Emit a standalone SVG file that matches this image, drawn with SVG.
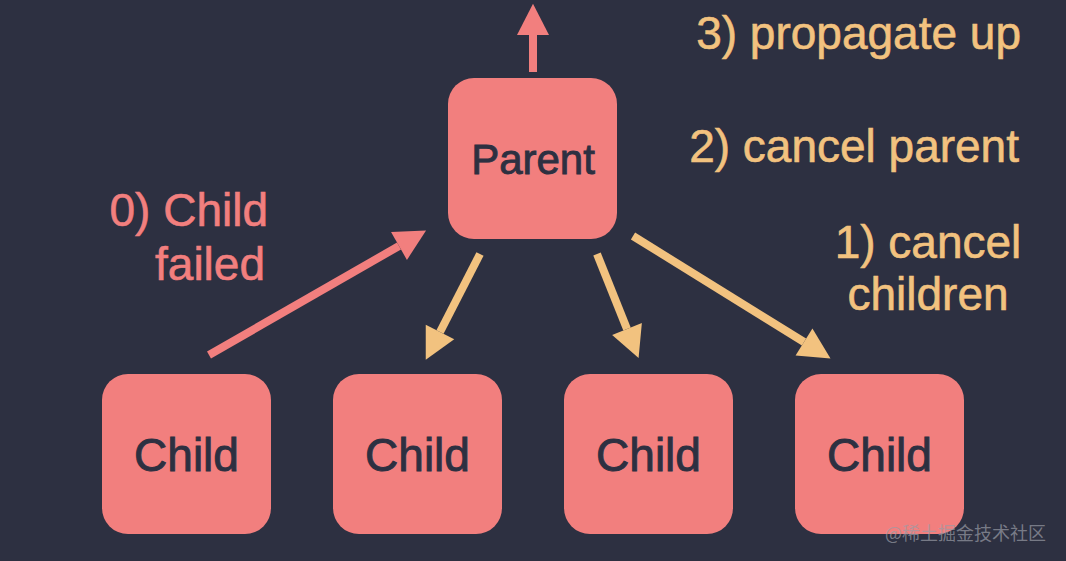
<svg xmlns="http://www.w3.org/2000/svg" width="1066" height="561" viewBox="0 0 1066 561">
<style>
.box{fill:#F27F7E}
.nt{font-family:"Liberation Sans",Arial,sans-serif;fill:#2D3041;stroke:#2D3041;stroke-width:0.9;text-anchor:middle}
.lbl{font-family:"Liberation Sans",Arial,sans-serif;font-size:46px;stroke-width:0.6}
.red{stroke:#F27F7E;stroke-width:8;fill:none}
.org{stroke:#F2C27F;stroke-width:8;fill:none}
</style>
<defs>
<marker id="hr" markerUnits="strokeWidth" markerWidth="4" markerHeight="4" refX="0" refY="2" orient="auto" overflow="visible"><path d="M0,0 L3.9,2 L0,4 z" fill="#F27F7E"/></marker>
<marker id="ho" markerUnits="strokeWidth" markerWidth="4" markerHeight="4" refX="0" refY="2" orient="auto" overflow="visible"><path d="M0,0 L3.9,2 L0,4 z" fill="#F2C27F"/></marker>
</defs>
<rect width="1066" height="561" fill="#2D3041"/>
<g id="connectors">
<line class="red" x1="533" y1="72" x2="533" y2="35" marker-end="url(#hr)"/>
<line class="red" x1="209" y1="355" x2="399" y2="246" marker-end="url(#hr)"/>
<line class="org" x1="480" y1="254" x2="440" y2="332" marker-end="url(#ho)"/>
<line class="org" x1="597" y1="254" x2="627" y2="329" marker-end="url(#ho)"/>
<line class="org" x1="633" y1="236" x2="804" y2="342" marker-end="url(#ho)"/>
</g>
<g id="parent"><rect class="box" x="448" y="78" width="169" height="161" rx="26"/><text class="nt" x="533" y="174" font-size="42">Parent</text></g>
<g id="child1"><rect class="box" x="102" y="374" width="169" height="160" rx="26"/><text class="nt" x="186.5" y="471" font-size="46">Child</text></g>
<g id="child2"><rect class="box" x="333" y="374" width="169" height="160" rx="26"/><text class="nt" x="417.5" y="471" font-size="46">Child</text></g>
<g id="child3"><rect class="box" x="564" y="374" width="169" height="160" rx="26"/><text class="nt" x="648.5" y="471" font-size="46">Child</text></g>
<g id="child4"><rect class="box" x="795" y="374" width="169" height="160" rx="26"/><text class="nt" x="879.5" y="471" font-size="46">Child</text></g>
<g id="labels">
<text class="lbl" x="1021" y="49" fill="#F2C27F" stroke="#F2C27F" text-anchor="end">3) propagate up</text>
<text class="lbl" x="1019" y="162" fill="#F2C27F" stroke="#F2C27F" text-anchor="end">2) cancel parent</text>
<text class="lbl" x="928" y="258" fill="#F2C27F" stroke="#F2C27F" text-anchor="middle">1) cancel</text>
<text class="lbl" x="928" y="310" fill="#F2C27F" stroke="#F2C27F" text-anchor="middle">children</text>
<text class="lbl" x="268" y="226" fill="#F27F7E" stroke="#F27F7E" text-anchor="end">0) Child</text>
<text class="lbl" x="265" y="280" fill="#F27F7E" stroke="#F27F7E" text-anchor="end">failed</text>
</g>
<text x="1046" y="540" font-family="'Noto Sans CJK SC',sans-serif" font-size="18" fill="#9A9CA6" fill-opacity="0.7" text-anchor="end">@稀土掘金技术社区</text>
</svg>
